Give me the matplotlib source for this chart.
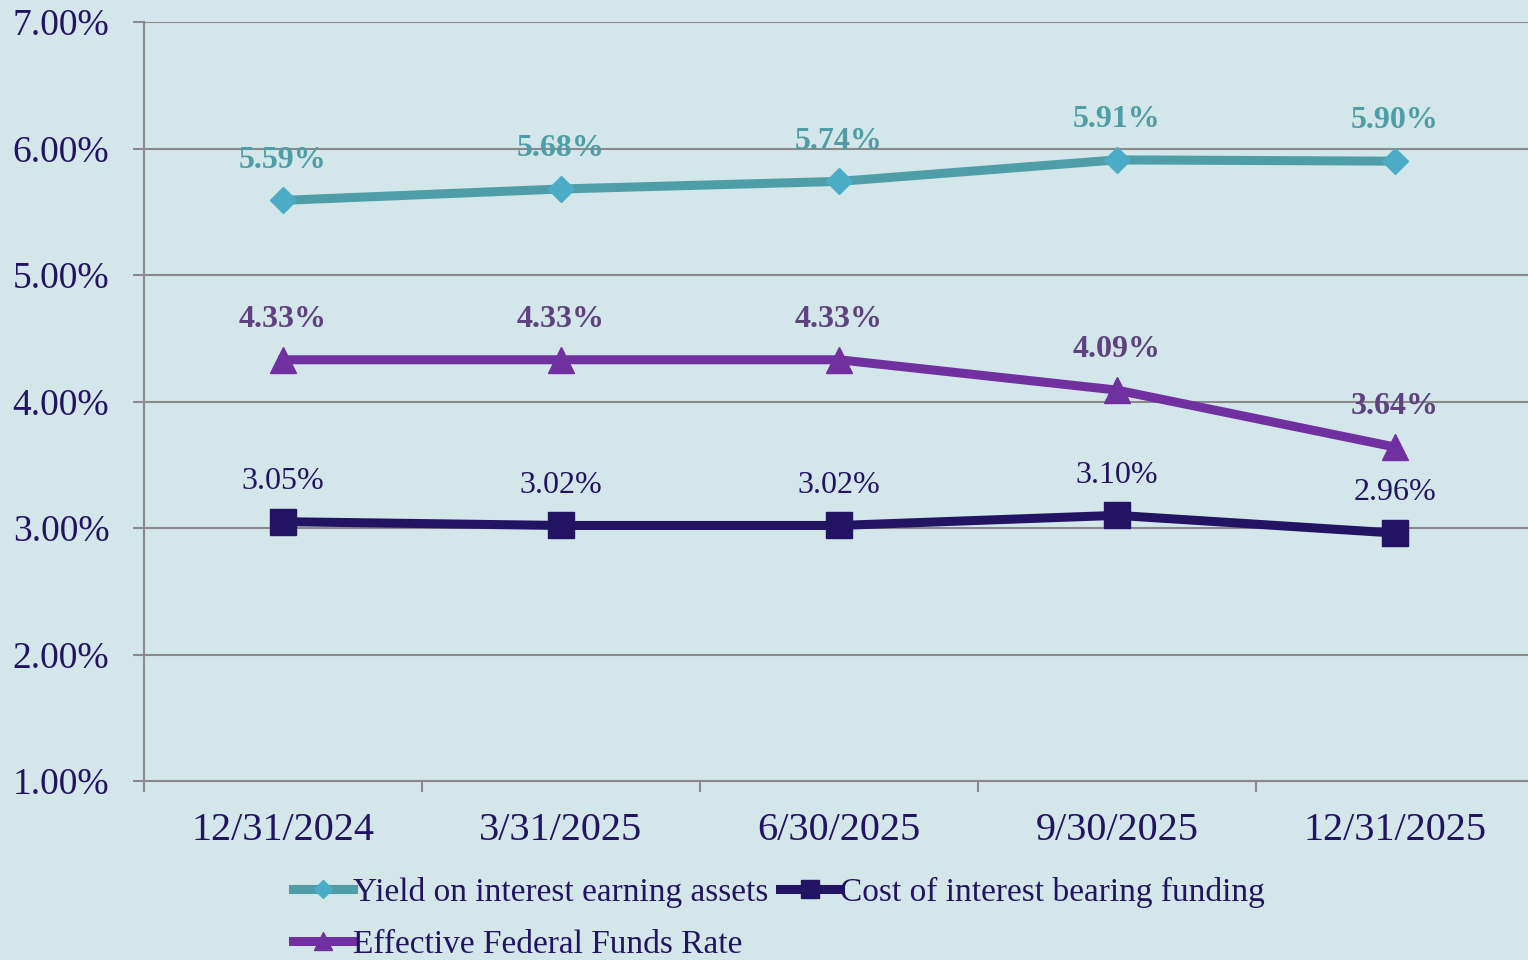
import matplotlib
matplotlib.use('Agg')
import matplotlib.pyplot as plt
from matplotlib.ticker import FixedLocator, FuncFormatter

# 数据
dates = ['12/31/2024', '3/31/2025', '6/30/2025', '9/30/2025', '12/31/2025']
yield_assets = [5.59, 5.68, 5.74, 5.91, 5.90]
cost_funding = [3.05, 3.02, 3.02, 3.10, 2.96]
fed_funds = [4.33, 4.33, 4.33, 4.09, 3.64]

bg = '#D3E6EA'
navy = '#221462'
teal = '#4F9DA6'
teal_marker = '#4BACC6'
purple = '#7030A0'
purple_label = '#5E4280'
grid_gray = '#8A8A8A'

plt.rcParams['font.family'] = ['Liberation Serif', 'DejaVu Serif']

fig = plt.figure(figsize=(15.28, 9.6), dpi=100, facecolor=bg)
ax = fig.add_axes([144 / 1528, 179 / 960, 1390 / 1528, 759 / 960])
ax.set_facecolor(bg)

x = list(range(len(dates)))

l1, = ax.plot(x, yield_assets, color=teal, lw=6.5, marker='D', ms=13,
              mfc=teal_marker, mec=teal_marker, label='Yield on interest earning assets', zorder=3)
l2, = ax.plot(x, cost_funding, color=navy, lw=6.5, marker='s', ms=19,
              mfc=navy, mec=navy, label='Cost of interest bearing funding', zorder=3)
l3, = ax.plot(x, fed_funds, color=purple, lw=6.5, marker='^', ms=19,
              mfc=purple, mec=purple, label='Effective Federal Funds Rate', zorder=3)

# 数据标签
for xi, v in zip(x, yield_assets):
    ax.annotate('%.2f%%' % v, (xi, v), xytext=(0, 29), textcoords='offset points',
                ha='center', va='center', fontsize=23, fontweight='bold', color=teal)
for xi, v in zip(x, fed_funds):
    ax.annotate('%.2f%%' % v, (xi, v), xytext=(0, 29), textcoords='offset points',
                ha='center', va='center', fontsize=23, fontweight='bold', color=purple_label)
for xi, v in zip(x, cost_funding):
    ax.annotate('%.2f%%' % v, (xi, v), xytext=(0, 29), textcoords='offset points',
                ha='center', va='center', fontsize=23, color=navy)

ax.set_xlim(-0.5, len(dates) - 0.5)
ax.set_ylim(1, 7)

# y轴
ax.set_yticks([1, 2, 3, 4, 5, 6, 7])
ax.yaxis.set_major_formatter(FuncFormatter(lambda v, p: '%.2f%%' % v))
ax.tick_params(axis='y', length=8, width=1.5, color=grid_gray, pad=17,
               labelsize=27, labelcolor=navy)
ax.grid(axis='y', color=grid_gray, lw=1.5, zorder=0)

# x轴
ax.xaxis.set_major_locator(FixedLocator([i - 0.5 for i in range(len(dates) + 1)]))
ax.xaxis.set_major_formatter(FuncFormatter(lambda v, p: ''))
ax.xaxis.set_minor_locator(FixedLocator(x))
ax.set_xticklabels(dates, minor=True)
ax.tick_params(axis='x', which='major', length=8, width=1.5, color=grid_gray)
ax.tick_params(axis='x', which='minor', length=0, pad=22, labelsize=29, labelcolor=navy)

for s in ['top', 'right']:
    ax.spines[s].set_visible(False)
for s in ['left', 'bottom']:
    ax.spines[s].set_color(grid_gray)
    ax.spines[s].set_linewidth(1.5)

leg = fig.legend([l1, l3, l2], [l1.get_label(), l3.get_label(), l2.get_label()],
                 ncol=2, loc='center left', bbox_to_anchor=(293 / 1528, 41.5 / 960),
                 frameon=False, fontsize=24, handlelength=1.8, handletextpad=0.0,
                 columnspacing=0.35, labelspacing=0.65, borderpad=0, borderaxespad=0,
                 markerscale=0.7)
for t in leg.get_texts():
    t.set_color(navy)

plt.savefig('out.png', dpi=100, facecolor=bg)
plt.close()
